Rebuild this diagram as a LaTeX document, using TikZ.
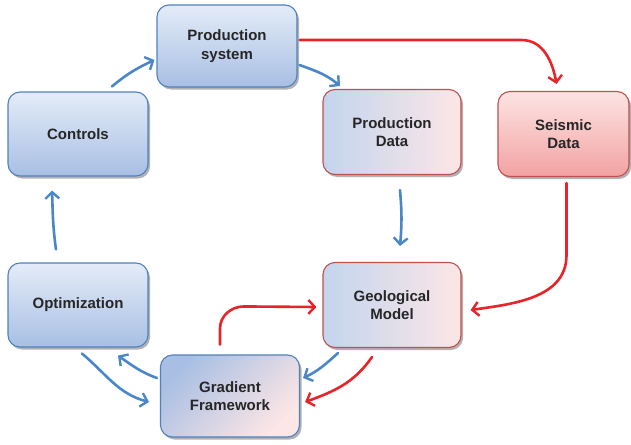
\documentclass[tikz,border=0pt]{standalone}
\usepackage{fontspec}
\setmainfont{Liberation Sans}
\usetikzlibrary{arrows.meta,shadows,calc}
\definecolor{bluebord}{HTML}{4F81BD}
\definecolor{redbord}{HTML}{C0504D}
\definecolor{bluetop}{HTML}{E4ECF8}
\definecolor{bluebot}{HTML}{A8BFE3}
\definecolor{redtop}{HTML}{FDE4E4}
\definecolor{redbot}{HTML}{F2A2A2}
\definecolor{mixl}{HTML}{C3D5EE}
\definecolor{mixm}{HTML}{F3ACAC}
\definecolor{mixr}{HTML}{FDE6E6}
\definecolor{arrblue}{HTML}{4A86C8}
\definecolor{arrred}{HTML}{E8232A}
\definecolor{txt}{HTML}{262626}
\begin{document}
\begin{tikzpicture}[x=1pt,y=1pt,
  box/.style={rounded corners=12pt, line width=1.1pt, align=center,
    font=\fontsize{15}{18.5}\selectfont\bfseries, text=txt, inner sep=0pt,
    drop shadow={shadow xshift=2pt,shadow yshift=-2.5pt,fill=black,opacity=0.3}},
  bluebox/.style={box, draw=bluebord, top color=bluetop, bottom color=bluebot},
  redbox/.style={box, draw=redbord, top color=redtop, bottom color=redbot},
  mixbox/.style={box, draw=redbord, left color=mixl, middle color=mixm, right color=mixr},
  gfbox/.style={box, draw=bluebord, top color=bluebot, middle color=mixm!85!white, bottom color=mixr, shading angle=45},
  barr/.style={draw=arrblue, line width=2.6pt, line cap=round,
    -{Straight Barb[length=6.5pt,width=14pt,line width=2.4pt]}},
  rarr/.style={draw=arrred, line width=2.6pt, line cap=round,
    -{Straight Barb[length=6.5pt,width=14pt,line width=2.4pt]}}]
\useasboundingbox (0,0) rectangle (631,-444);

\node[bluebox, minimum width=140pt, minimum height=82pt] (ps) at (227,-46) {Production\\system};
\node[mixbox, minimum width=138pt, minimum height=85pt] (pd) at (392,-132) {Production\\Data};
\node[redbox, minimum width=131pt, minimum height=85pt] (sd) at (563.5,-134) {Seismic\\Data};
\node[bluebox, minimum width=140pt, minimum height=84pt] (ctrl) at (78,-134) {Controls};
\node[bluebox, minimum width=140pt, minimum height=84pt] (opt) at (78,-305) {Optimization};
\node[mixbox, minimum width=138pt, minimum height=85pt] (geo) at (392,-305) {Geological\\Model};
\node[gfbox, minimum width=139pt, minimum height=82pt] (gf) at (230,-396) {Gradient\\Framework};

% blue arrows
\draw[barr] ($(ctrl.north)+(34,5)$) to[out=40,in=205] ($(ps.west)+(-2,-14)$);
\draw[barr] ($(ps.east)+(2,-19)$) to[out=-20,in=140] ($(pd.north)+(-52,3)$);
\draw[barr] ($(pd.south)+(8,-15)$) to[out=-85,in=85] ($(geo.north)+(8,16)$);
\draw[barr] ($(geo.south)+(-54,-5)$) to[out=222,in=25] ($(gf.east)+(3,18)$);
\draw[barr] ($(opt.south)+(4,-6)$) to[out=-40,in=165] ($(gf.west)+(-11,-6)$);
\draw[barr] ($(gf.west)+(-3,18)$) to[out=160,in=-35] ($(opt.south)+(40,-8)$);
\draw[barr] ($(opt.north)+(-22,13)$) to[out=98,in=-88] ($(ctrl.south)+(-26,-14)$);

% red arrows
\draw[rarr] ($(ps.east)+(2,6)$) -- ++(222,0) to[out=0,in=100] ($(sd.north)+(-7,7)$);
\draw[rarr] ($(sd.south)+(3,-6)$) -- ++(0,-72) to[out=-90,in=8] ($(geo.east)+(9,-5)$);
\draw[rarr] ($(gf.north)+(-10,10)$) -- ++(0,16) to[out=90,in=180] ++(24,22) -- ($(geo.west)+(-6,-2)$);
\draw[rarr] ($(geo.south)+(-20,-9)$) to[out=235,in=20] ($(gf.east)+(5,-6)$);
\end{tikzpicture}
\end{document}
